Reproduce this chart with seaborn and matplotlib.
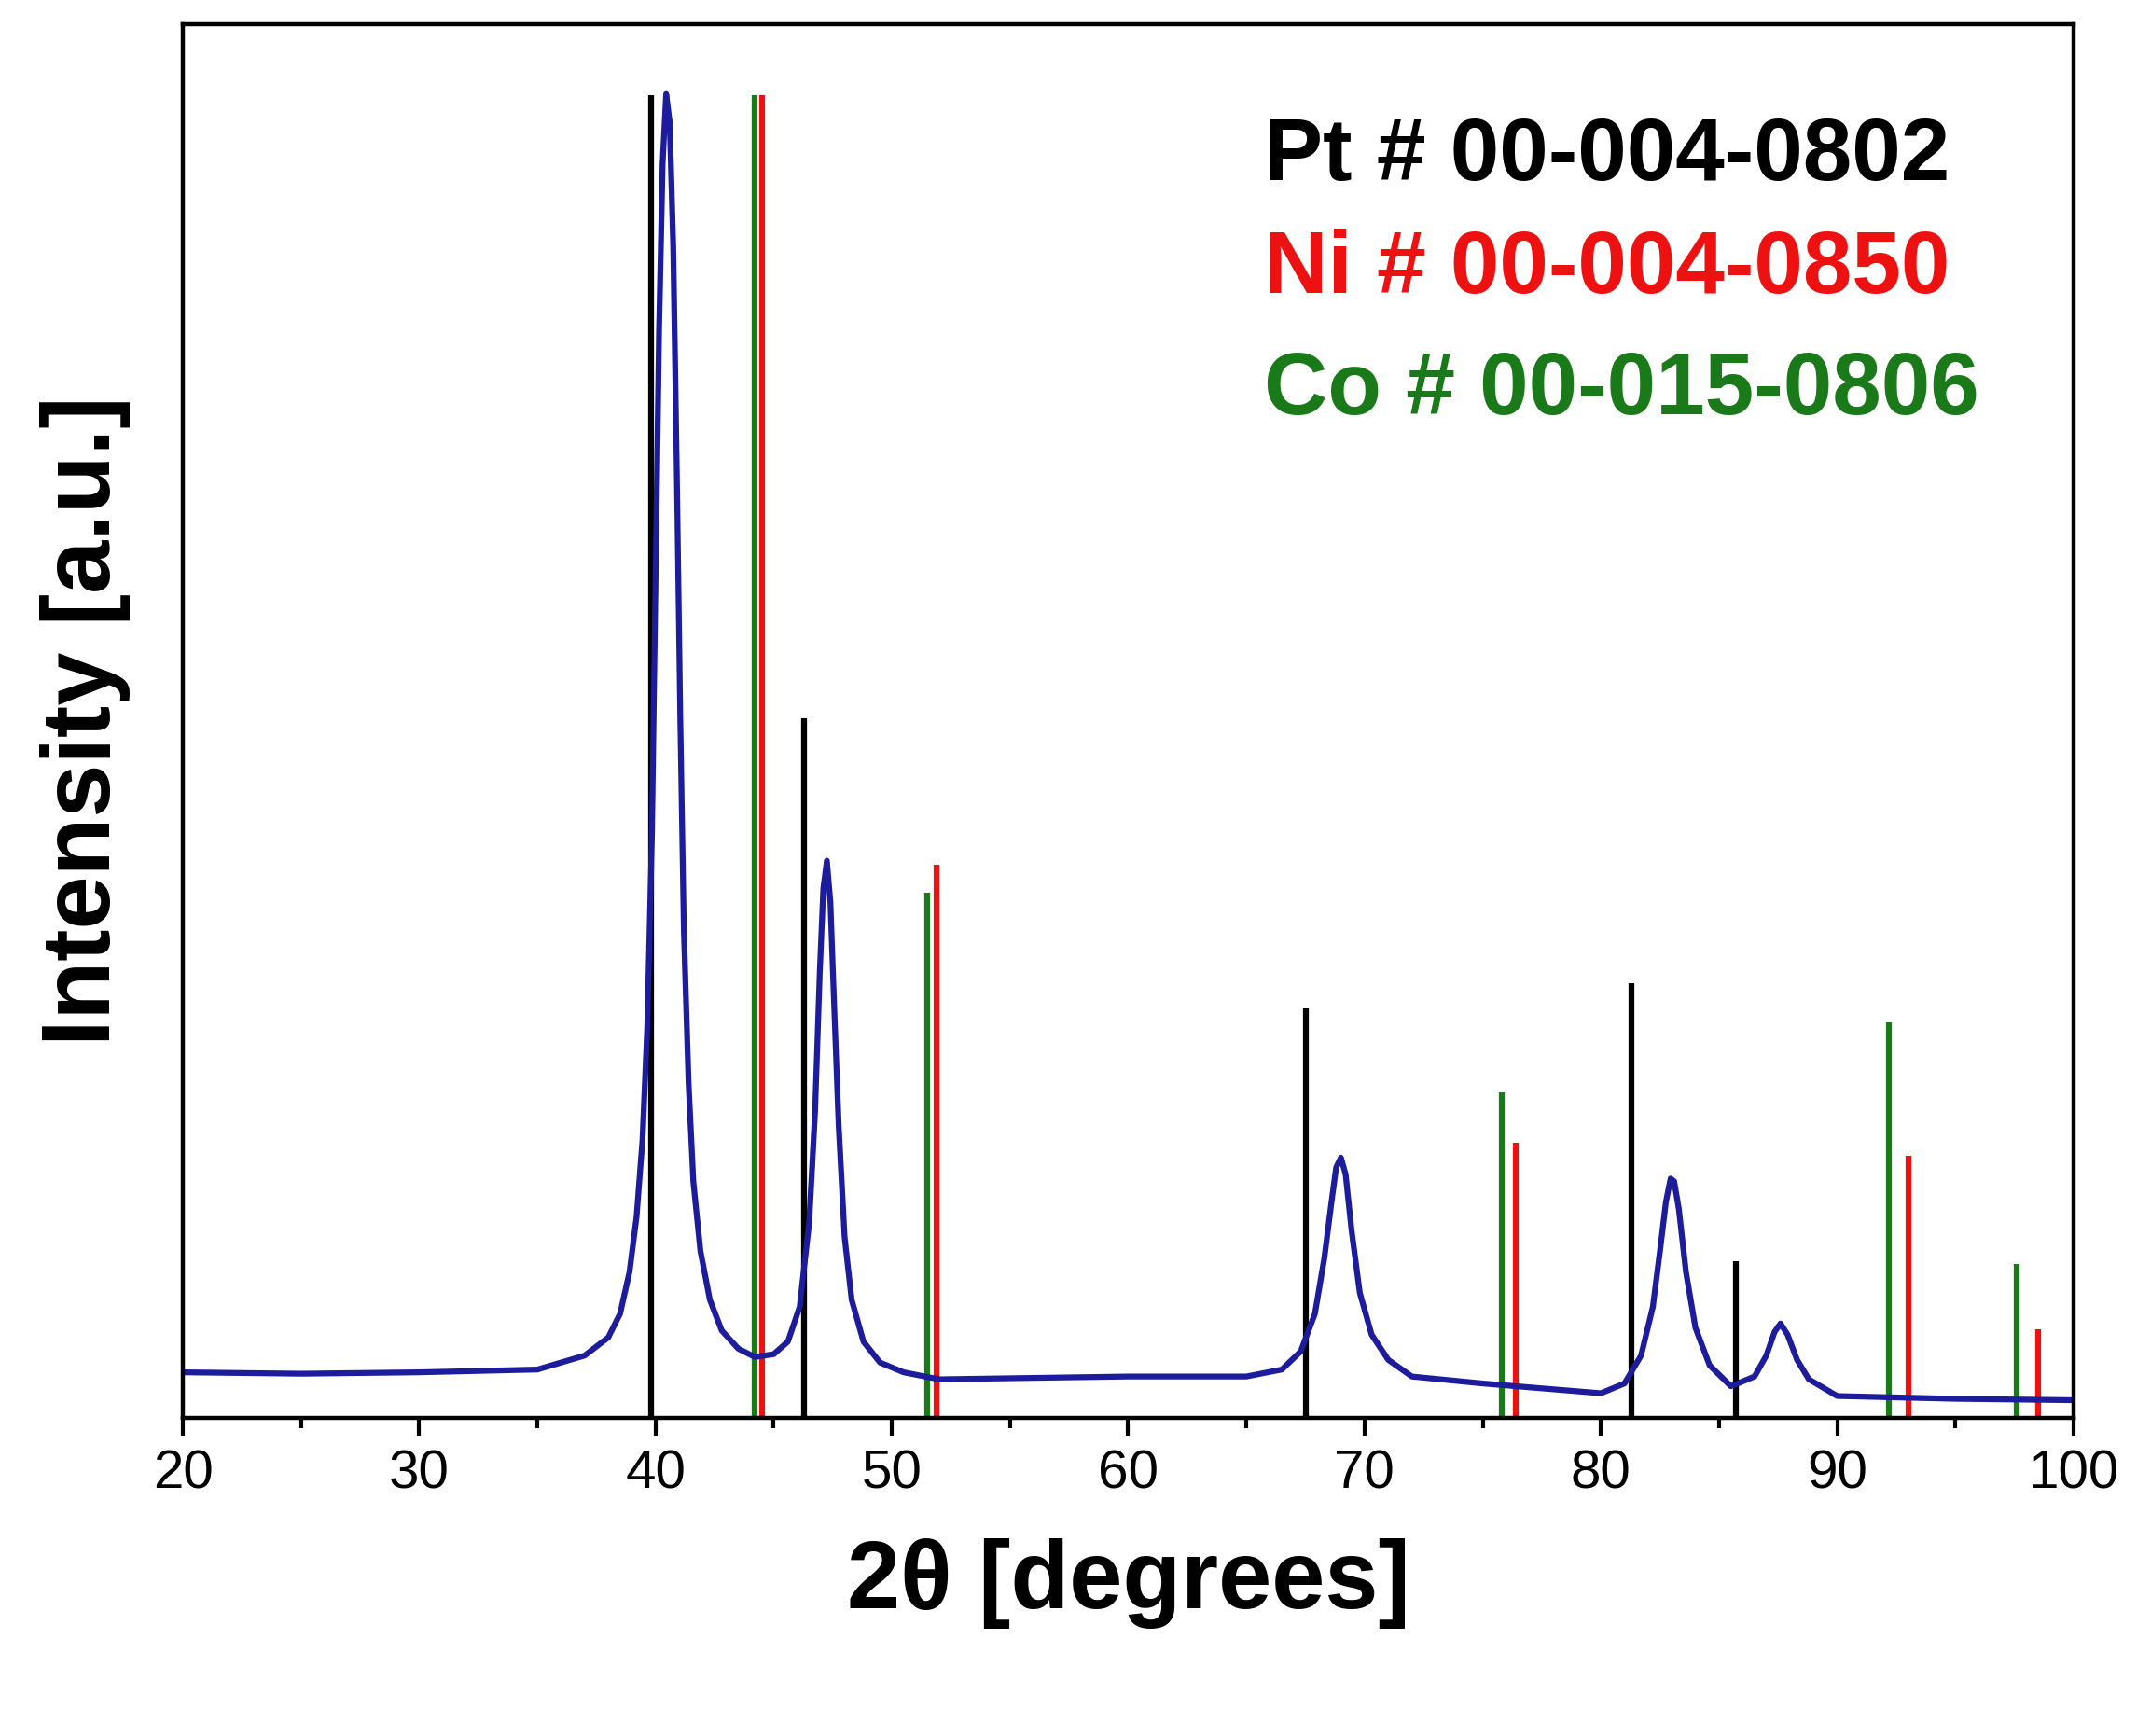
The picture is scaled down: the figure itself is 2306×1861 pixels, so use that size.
import numpy as np
import pandas as pd
import matplotlib
matplotlib.use("Agg")
import matplotlib.pyplot as plt
import seaborn as sns
from matplotlib.ticker import MultipleLocator

two_theta = [20, 25, 30, 35, 36, 37, 38, 38.5, 38.9, 39.2, 39.45, 39.65, 39.85, 40.0, 40.15,
             40.3, 40.45, 40.6, 40.75, 40.9, 41.05, 41.2, 41.4, 41.6, 41.9, 42.3, 42.8, 43.5,
             44.2, 45.0, 45.6, 46.1, 46.5, 46.75, 46.95, 47.1, 47.25, 47.4, 47.55, 47.75,
             48.0, 48.3, 48.8, 49.5, 50.5, 52, 60, 65, 66.5, 67.3, 67.9, 68.3, 68.6, 68.8,
             69.0, 69.2, 69.45, 69.8, 70.3, 71.0, 72, 75, 80,
             81, 81.7, 82.2, 82.5, 82.75, 82.95, 83.1, 83.3, 83.6, 84.0, 84.6, 85.5,
             86.5, 87.0, 87.35, 87.6, 87.9, 88.3, 88.8, 90, 95, 100]
intensity = [3.3, 3.2, 3.3, 3.5, 4, 4.5, 5.8, 7.5, 10.5, 14.5, 20, 28, 42, 60, 78,
             90, 95, 93, 84, 68, 50, 35, 24, 17, 12, 8.5, 6.3, 5,
             4.4, 4.6, 5.5, 8, 14, 22, 32, 38, 40, 37, 30, 21,
             13, 8.5, 5.5, 4, 3.3, 2.8, 3, 3, 3.5, 4.8, 7.5, 11.5, 15.5, 18,
             18.7, 17.5, 13.5, 9, 6, 4.2, 3, 2.5, 1.8,
             2.5, 4.5, 8, 12, 15.5, 17.2, 17, 15, 10.5, 6.5, 3.8, 2.3,
             3.0, 4.5, 6.2, 6.8, 6.0, 4.2, 2.8, 1.6, 1.4, 1.3]

# reference cards
pt_pos = [39.8, 46.3, 67.5, 81.3, 85.7]
pt_int = [94.9, 50.2, 29.4, 31.2, 11.3]
ni_pos = [44.5, 51.9, 76.4, 93.0, 98.5]
ni_int = [94.9, 39.7, 19.8, 18.8, 6.4]
co_pos = [44.2, 51.5, 75.8, 92.2, 97.6]
co_int = [94.9, 37.7, 23.4, 28.4, 11.1]

sns.set_style("ticks")
plt.rcParams['font.family'] = ['Liberation Sans', 'DejaVu Sans']
plt.rcParams['text.color'] = 'black'
plt.rcParams['axes.labelcolor'] = 'black'
plt.rcParams['xtick.color'] = 'black'

fig, ax = plt.subplots(figsize=(23.06, 18.61), dpi=100)
fig.subplots_adjust(left=0.085, right=0.964, top=0.986, bottom=0.183)

green = "#1a7a1a"
ax.vlines(pt_pos, 0, pt_int, color="black", lw=4.5)
ax.vlines(ni_pos, 0, ni_int, color="#ee1111", lw=4.5)
ax.vlines(co_pos, 0, co_int, color=green, lw=4.5)

df = pd.DataFrame({"x": two_theta, "y": intensity})
sns.lineplot(data=df, x="x", y="y", ax=ax, color="#1c1c9c", lw=4.5)

ax.set_xlim(20, 100)
ax.set_ylim(0, 100)
ax.set_yticks([])
ax.xaxis.set_major_locator(MultipleLocator(10))
ax.xaxis.set_minor_locator(MultipleLocator(5))
ax.tick_params(axis="x", which="major", length=14, width=3, labelsize=42, pad=10)
ax.tick_params(axis="x", which="minor", length=8, width=3)
for s in ax.spines.values():
    s.set_linewidth(3.2)
    s.set_color("black")

ax.set_xlabel("2θ [degrees]", fontsize=74, fontweight="bold", labelpad=30)
ax.set_ylabel("Intensity [a.u.]", fontsize=74, fontweight="bold", labelpad=40)

labels = [("Pt # 00-004-0802", "black", 0.905),
          ("Ni # 00-004-0850", "#ee1111", 0.824),
          ("Co # 00-015-0806", green, 0.737)]
for txt, col, yy in labels:
    ax.text(0.572, yy, txt, transform=ax.transAxes, color=col, fontsize=68,
            fontweight="bold", va="center", ha="left")

fig.savefig("out.png", dpi=100)
